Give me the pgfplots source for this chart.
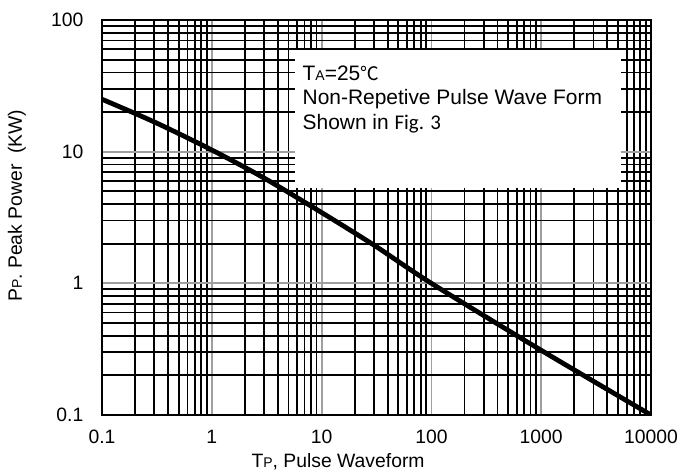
\documentclass[border=0pt]{standalone}
\usepackage{pgfplots}
\pgfplotsset{compat=1.18}
\usepackage{fontspec}
\setmainfont{Liberation Sans}
\newfontfamily\calib{Carlito}
\newfontfamily\cjk{Noto Sans CJK SC}

\begin{document}
\begin{tikzpicture}
% page frame matching the 681x472 reference (1px = 0.75pt)
\path[use as bounding box] (-76.5pt,-42.75pt) rectangle (434.25pt,311.25pt);
\begin{axis}[
    at={(0,0)}, anchor=south west,
    scale only axis,
    width=411.75pt, height=296.25pt,
    xmode=log, ymode=log,
    xmin=0.1, xmax=10000,
    ymin=0.1, ymax=100,
    xtick={0.1,1,10,100,1000,10000},
    xticklabels={0.1,1,10,100,1000,10000},
    ytick={0.1,1,10,100},
    yticklabels={0.1,1,10,100},
    grid=both,
    major grid style={gray!75, line width=1.35pt},
    minor grid style={black, line width=1.35pt},
    axis line style={black, line width=1.5pt},
    major tick length=0pt, minor tick length=0pt,
    tick label style={font=\fontsize{14.5}{17}\selectfont},
    xticklabel shift=8pt,
    yticklabel shift=10.5pt,
    xlabel={T{\fontsize{10.5}{12}\selectfont P}, Pulse Waveform},
    ylabel={P{\fontsize{10.5}{12}\selectfont P}. Peak Power\ \ (KW)},
    every axis x label/.style={at={(axis description cs:0.43,-0.119)}, anchor=center,
      font=\fontsize{14.5}{17}\selectfont},
    every axis y label/.style={at={(axis description cs:-0.155,0.53)}, anchor=center,
      rotate=90, font=\fontsize{14.5}{17}\selectfont},
]
\fill[white] (rel axis cs:0.3515,0.575) rectangle (rel axis cs:0.9454,0.924);
\node[anchor=base west, font=\fontsize{15.7}{18}\selectfont, inner sep=0pt]
  at (rel axis cs:0.365,0.848) {T{\fontsize{10.5}{12}\selectfont A}=25{\cjk\fontsize{14}{16}\selectfont ℃}};
\node[anchor=base west, font=\fontsize{15.7}{18}\selectfont, inner sep=0pt]
  at (rel axis cs:0.365,0.785) {Non-Repetive Pulse Wave Form};
\node[anchor=base west, font=\fontsize{15.7}{18}\selectfont, inner sep=0pt]
  at (rel axis cs:0.365,0.722) {Shown in {\calib Fig. 3}};
\addplot[black, line width=3.6pt, smooth] coordinates {
  (0.1,25) (0.3,16.8) (1,10.3) (3,6.3) (10,3.45) (30,1.95)
  (100,1.0) (1000,0.31) (10000,0.1)
};
\end{axis}
\end{tikzpicture}
\end{document}
